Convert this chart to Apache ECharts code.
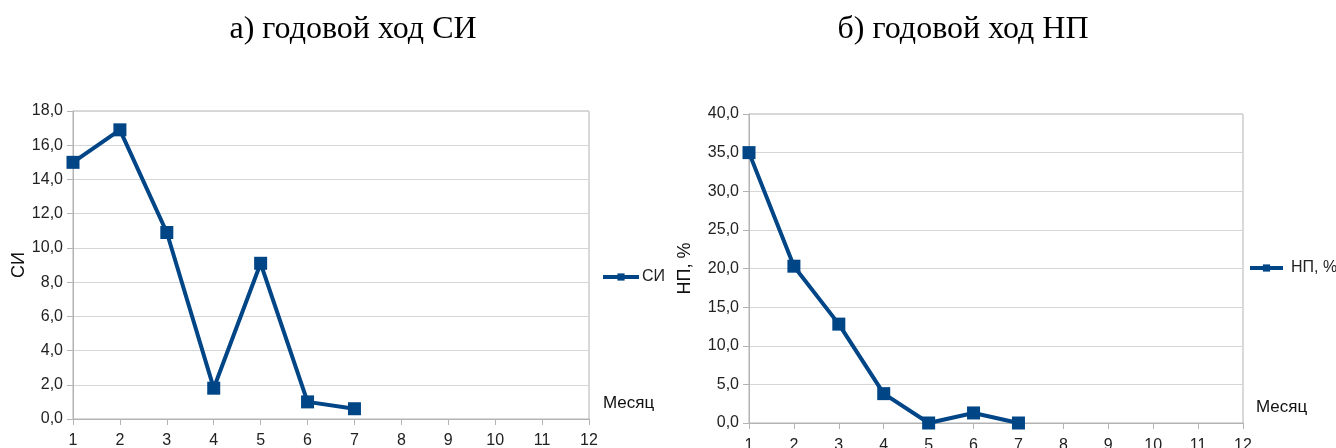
<!DOCTYPE html>
<html><head><meta charset="utf-8">
<script src="https://cdn.jsdelivr.net/npm/echarts@6/dist/echarts.min.js"></script>
<style>html,body{margin:0;padding:0;background:#fff}#c{width:1336px;height:448px}</style>
</head><body><div id="c"></div>
<script>
var months = [1, 2, 3, 4, 5, 6, 7];
var siValues = [15.0, 16.9, 10.9, 1.8, 9.1, 1.0, 0.6];
var npValues = [35.0, 20.3, 12.8, 3.8, 0.0, 1.3, 0.0];
var titles = ['а) годовой ход СИ', 'б) годовой ход НП'];
var seriesNames = ['СИ', 'НП, %'];
var xName = 'Месяц';

var blue = '#004586';
var axisCol = '#b3b3b3';
var gridCol = '#d6d6d6';
var labelFont = {fontFamily: 'Liberation Sans', fontSize: 16, color: '#222'};
function fmt(v){ return v.toFixed(1).replace('.', ','); }
function pairs(vals){ return months.map(function(m,i){ return [m, vals[i]]; }); }

function xAx(gi, margin){
  return {type:'value', gridIndex:gi, min:1, max:12, interval:1,
    axisLine:{show:true, onZero:false, lineStyle:{color:axisCol}},
    axisTick:{show:true, length:6, lineStyle:{color:axisCol}},
    splitLine:{show:false},
    axisLabel:Object.assign({margin:margin}, labelFont)};
}
function yAx(gi, max, interval, name, gap){
  return {type:'value', gridIndex:gi, min:0, max:max, interval:interval,
    name:name, nameLocation:'middle', nameGap:gap,
    nameTextStyle:{fontFamily:'Liberation Sans', fontSize:18, color:'#111'},
    axisLine:{show:true, lineStyle:{color:axisCol}},
    axisTick:{show:true, length:6, lineStyle:{color:axisCol}},
    splitLine:{show:true, lineStyle:{color:gridCol, width:1}},
    axisLabel:Object.assign({margin:10, formatter:fmt}, labelFont)};
}
function ser(i, vals){
  return {type:'line', name:seriesNames[i], xAxisIndex:i, yAxisIndex:i, data:pairs(vals),
    symbol:'rect', symbolSize:13, showSymbol:true,
    lineStyle:{color:blue, width:4}, itemStyle:{color:blue}, animation:false};
}
function leg(i, left, top, w, pad){
  return {data:[seriesNames[i]], left:left, top:top, padding:0, itemWidth:w, itemHeight:9, itemGap:4,
    lineStyle:{width:4}, textStyle:{fontFamily:'Liberation Sans', fontSize:16, color:'#222', padding:[0,0,0,pad]}};
}

var chart = echarts.init(document.getElementById('c'), null, {renderer:'canvas'});
chart.setOption({
  animation:false,
  title:[
    {text:titles[0], left:348, top:9, textAlign:'center', textStyle:{fontFamily:'Liberation Serif', fontSize:32, fontWeight:'normal', color:'#000'}},
    {text:titles[1], left:958, top:9, textAlign:'center', textStyle:{fontFamily:'Liberation Serif', fontSize:32, fontWeight:'normal', color:'#000'}}
  ],
  grid:[
    {left:73, width:516, top:111, height:308, show:true, borderColor:axisCol, borderWidth:1, backgroundColor:'transparent', outerBoundsMode:'none', containLabel:false},
    {left:749, width:494, top:114, height:309, show:true, borderColor:axisCol, borderWidth:1, backgroundColor:'transparent', outerBoundsMode:'none', containLabel:false}
  ],
  xAxis:[xAx(0, 14), xAx(1, 15)],
  yAxis:[yAx(0, 18, 2, seriesNames[0], 45), yAx(1, 40, 5, seriesNames[1], 55)],
  legend:[leg(0, 601, 269, 36, -2), leg(1, 1248, 260, 33, 3)],
  graphic:[
    {type:'text', left:603, top:395, style:{text:xName, font:'17px "Liberation Sans"', fill:'#111'}},
    {type:'text', left:1256, top:399, style:{text:xName, font:'17px "Liberation Sans"', fill:'#111'}}
  ],
  series:[ser(0, siValues), ser(1, npValues)]
});
</script></body></html>
